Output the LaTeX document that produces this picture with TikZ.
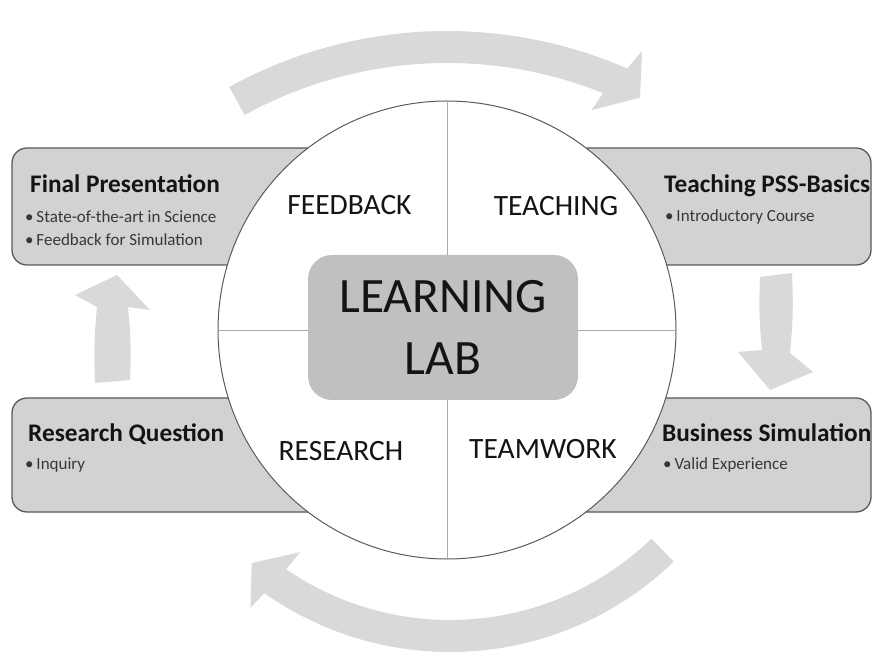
\documentclass[tikz,border=0pt]{standalone}
\usepackage{fontspec}
\setmainfont{Carlito}
\definecolor{arrowc}{RGB}{217,217,217}
\definecolor{boxc}{RGB}{210,210,210}
\definecolor{centc}{RGB}{192,192,192}
\definecolor{edgec}{RGB}{90,90,90}
\definecolor{linec}{RGB}{170,170,170}
\definecolor{txtc}{RGB}{20,20,20}
\begin{document}
\begin{tikzpicture}[x=1pt,y=1pt,
  sidebox/.style={fill=boxc,draw=edgec,line width=1.3pt,rounded corners=15pt},
  bigarrow/.style={fill=arrowc},
  title/.style={anchor=base west,inner sep=0pt,font=\fontsize{25.3}{29}\selectfont\bfseries,text=txtc},
  bullet/.style={anchor=base west,inner sep=0pt,font=\fontsize{17}{20}\selectfont,text=txtc!85},
  quad/.style={anchor=base,inner sep=0pt,font=\fontsize{29.5}{33}\selectfont,text=txtc},
  centtxt/.style={anchor=base,inner sep=0pt,font=\fontsize{49.5}{56}\selectfont,text=txtc}]
\useasboundingbox (0,0) rectangle (874,653);
% curved arrows
\fill[bigarrow] ([shift={(447,170)}]118.8:452) arc[start angle=118.8,end angle=66.5,radius=452]
  -- ([shift={(447,170)}]65.7:474) -- ([shift={(447,170)}]63.4:431)
  -- ([shift={(447,170)}]68.8:400) -- ([shift={(447,170)}]68.2:420)
  arc[start angle=68.2,end angle=118.8,radius=420] -- cycle;
\fill[bigarrow] ([shift={(450,323)}]-46:290) arc[start angle=-46,end angle=-124.4,radius=290]
  -- ([shift={(450,323)}]-124:268) -- ([shift={(450,323)}]-130.4:306)
  -- ([shift={(450,323)}]-125.7:342) -- ([shift={(450,323)}]-125.2:322)
  arc[start angle=-125.2,end angle=-46,radius=322] -- cycle;
% straight arrows
\fill[bigarrow] (95,270) -- (130,273) to[bend right=4] (128,346) -- (150,343) -- (117,378)
  -- (75,358) -- (97,346) to[bend right=4] cycle;
\fill[bigarrow] (760,376) -- (792,380) to[bend left=4] (790,300) -- (813,281) -- (770,263)
  -- (738,301) -- (762,303) to[bend left=4] cycle;
% side boxes
\path[sidebox] (447,388) -- (12,388) -- (12,505) -- (447,505);
\path[sidebox] (447,388) -- (871,388) -- (871,505) -- (447,505);
\path[sidebox] (447,141) -- (12,141) -- (12,255) -- (447,255);
\path[sidebox] (447,141) -- (871,141) -- (871,255) -- (447,255);
% circle
\node[circle,minimum size=458pt,inner sep=0pt,fill=white,draw=edgec,line width=1pt] (circ) at (447,323) {};
\draw[linec,line width=0.7pt] (circ.north) -- (circ.south);
\draw[linec,line width=0.7pt] (circ.west) -- (circ.east);
% center box
\node[fill=centc,rounded corners=24pt,minimum width=270pt,minimum height=145pt,inner sep=0pt] (lab) at (443,325.5) {};
\node[centtxt] (t1) at (443,340) {LEARNING};
\node[centtxt] (t2) at (443,278) {LAB};
% quadrant labels
\node[quad] (fb) at (349.5,438) {FEEDBACK};
\node[quad] (te) at (556,437) {TEACHING};
\node[quad] (re) at (341,193) {RESEARCH};
\node[quad] (tw) at (543,194) {TEAMWORK};
% box texts
\node[title] (fp) at (30,460) {Final Presentation};
\node[bullet] (fp1) at (25,430) {•\,State-of-the-art in Science};
\node[bullet] (fp2) at (25,407) {•\,Feedback for Simulation};
\node[title] (tp) at (664,460) {Teaching PSS-Basics};
\node[bullet] (tp1) at (665,431) {•\,Introductory Course};
\node[title] (rq) at (28,211) {Research Question};
\node[bullet] (rq1) at (25,183) {•\,Inquiry};
\node[title] (bs) at (662,211) {Business Simulation};
\node[bullet] (bs1) at (663,183) {•\,Valid Experience};
\end{tikzpicture}
\end{document}
